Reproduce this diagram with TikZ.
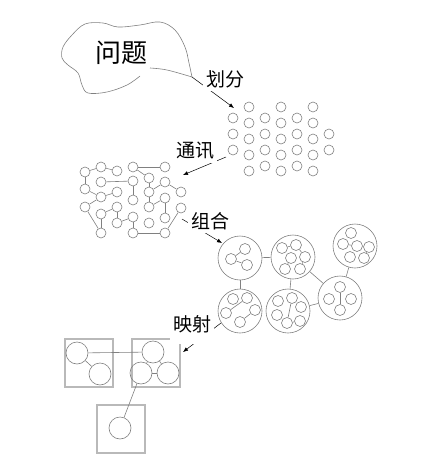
\documentclass[tikz,border=0pt]{standalone}
\usepackage{fontspec}
\newfontfamily\cjk{Noto Sans CJK SC}
\usetikzlibrary{arrows.meta}

\begin{document}
\begin{tikzpicture}[
    x=1pt, y=-1pt,
    >={Latex[length=5pt, width=4pt]}, % small filled heads
    cell/.style={circle, draw=gray, line width=0.6pt, minimum size=10pt, inner sep=0pt}, % fine-grained task
    small/.style={cell, minimum size=11pt},
    group/.style={circle, draw=gray, line width=0.6pt, minimum size=44pt, inner sep=0pt}, % agglomerated task
    task/.style={circle, draw=gray, line width=0.6pt, minimum size=22pt, inner sep=0pt},
    proc/.style={rectangle, draw=gray!55, line width=1.2pt, minimum size=48pt, inner sep=0pt}, % processor
    link/.style={gray, line width=0.6pt},
    flow/.style={->, line width=0.5pt},
    stage/.style={fill=white, inner sep=3pt, font=\cjk\fontsize{19pt}{19pt}\selectfont},
    title/.style={font=\cjk\fontsize{26pt}{26pt}\selectfont}
]
    \useasboundingbox (0,0) rectangle (441,466);

    % === Problem (cloud) ===
    \draw[gray, line width=0.6pt] plot[smooth, tension=0.6] coordinates {(150,68) (167,70) (192,77)};
    \draw[gray, line width=0.6pt] plot[smooth, tension=0.6] coordinates {
        (192,77) (189,63) (185,47) (175,30) (160,22) (140,25) (118,27) (103,23) (85,24) (72,35)
        (63,47) (62,58) (68,65) (78,73) (82,85) (88,93) (107,92) (127,85) (140,76)};
    \node[title] (problem) at (121,53) {问题};
    \coordinate (cloud tip) at (192,77);

    % === Partition ===
    \foreach \c in {2,4,6}
        \foreach \r in {1,...,5}
            \node[cell] (p\c\r) at ({233+16*(\c-1)}, {107+16*(\r-1)}) {};
    \foreach \c/\rows in {1/{1,2,3}, 3/{1,2,3,4}, 5/{1,2,3,4}, 7/{2,3}}
        \foreach \r in \rows
            \node[cell] (p\c\r) at ({233+16*(\c-1)}, {118+16*(\r-1)}) {};
    \coordinate (part tip) at (234,108);

    % === Communication ===
    \foreach \n/\x/\y in {c11/85/172, c12/85/189, c13/85/207,
        c21/101/167, c22/101/182, c23/101/197, c24/101/214, c25/101/233,
        c31/117/171, c32/117/192, c33/117/207, c34/117/223,
        c41/133/167, c42/133/181, c43/133/200, c44/133/217, c45/133/233,
        c51/149/178, c52/149/192, c53/149/207, c54/149/223,
        c61/165/167, c62/165/182, c63/165/198, c64/165/218, c65/165/233,
        c72/181/192, c73/181/208}
        \node[cell] (\n) at (\x,\y) {};
    \foreach \a/\b in {c11/c21, c21/c31, c11/c12, c22/c42, c41/c61, c41/c51, c42/c43,
        c51/c52, c52/c53, c52/c62, c12/c23, c23/c32, c23/c13, c24/c25, c13/c25,
        c24/c33, c33/c34, c34/c44, c44/c45, c45/c65, c53/c63, c63/c64, c72/c62, c73/c65}
        \draw[link] (\a) -- (\b);
    \coordinate (comm from) at (226,157);
    \coordinate (comm tip) at (183,175);

    % === Agglomeration ===
    \node[group] (g1) at (240,258) {};
    \node[group] (g2) at (293,257) {};
    \node[group] (g3) at (355,246) {};
    \node[group] (g4) at (240,311) {};
    \node[group] (g5) at (288,311) {};
    \node[group] (g6) at (340,298) {};
    \foreach \a/\b in {g1/g2, g1/g4, g2/g5, g2/g6, g3/g6, g5/g6}
        \draw[link] (\a) -- (\b);

    \foreach \n/\x/\y in {s11/231/259, s12/245/249, s13/247/265,
        s21/282/248, s22/296/245, s23/291/258, s24/305/257, s25/285/269, s26/300/269,
        s31/351/233, s32/343/244, s33/357/246, s34/369/247, s35/350/257, s36/364/258,
        s41/233/299, s42/247/298, s43/226/313, s44/255/310, s45/240/322,
        s51/278/301, s52/292/298, s53/301/307, s54/277/315, s55/287/323, s56/300/321,
        s61/340/287, s62/329/299, s63/351/299, s64/340/310}
        \node[small] (\n) at (\x,\y) {};
    \foreach \a/\b in {s11/s12, s11/s13, s21/s22, s24/s26, s23/s25, s22/s24,
        s32/s33, s34/s36, s43/s42, s45/s44, s52/s55, s55/s56, s61/s64}
        \draw[link] (\a) -- (\b);
    \coordinate (aggl from) at (182,219);
    \coordinate (aggl tip) at (222,243);
    \coordinate (map from) at (221,323);
    \coordinate (map tip) at (183,352);

    % === Mapping ===
    \node[proc] (boxA) at (89,363) {};
    \node[proc] (boxB) at (156,363) {};
    \node[proc] (boxC) at (121,429) {};
    \node[task] (mA1) at (77,353) {};
    \node[task] (mA2) at (100,374) {};
    \node[task] (mB1) at (153,352) {};
    \node[task] (mB2) at (141,373) {};
    \node[task] (mB3) at (168,373) {};
    \node[task] (mC1) at (120,428) {};
    \foreach \a/\b in {mA1/mB1, mA1/mA2, mB1/mB2, mB2/mB3, mB1/mB3, mB2/mC1}
        \draw[link] (\a) -- (\b);

    % === Stage arrows and labels ===
    \draw[flow] (cloud tip) -- (part tip);
    \draw[flow] (comm from) -- (comm tip);
    \draw[flow] (aggl from) -- (aggl tip);
    \draw[flow] (map from) -- (map tip);

    \node[stage] (partition) at (225,79) {划分};
    \node[stage] (communicate) at (195,151) {通讯};
    \node[stage] (agglomerate) at (210,221) {组合};
    \node[stage, anchor=base, text depth=10pt] (mapping) at (192,331) {映射};

\end{tikzpicture}
\end{document}
